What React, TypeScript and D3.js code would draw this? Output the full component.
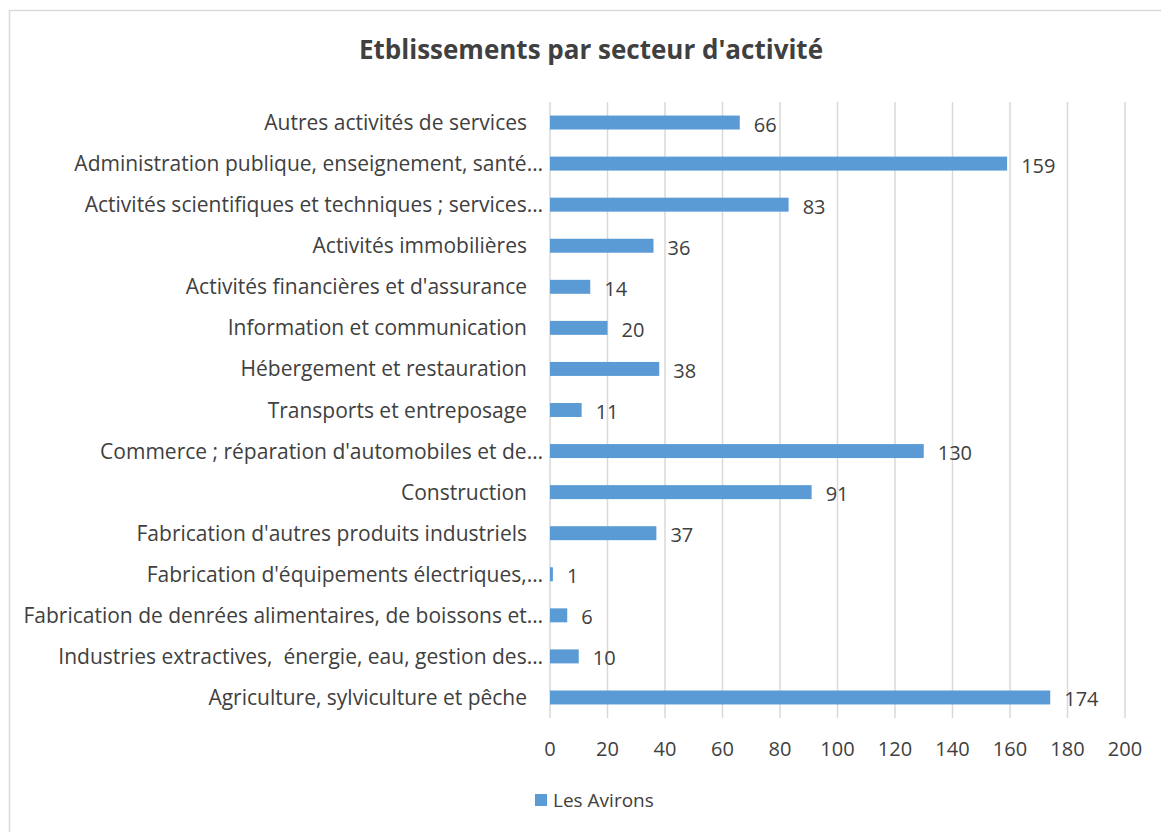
import React, { useEffect, useRef } from 'react';
import * as d3 from 'd3';

const categories = [
  'Autres activités de services',
  'Administration publique, enseignement, santé…',
  'Activités scientifiques et techniques ; services…',
  'Activités immobilières',
  "Activités financières et d'assurance",
  'Information et communication',
  'Hébergement et restauration',
  'Transports et entreposage',
  "Commerce ; réparation d'automobiles et de…",
  'Construction',
  "Fabrication d'autres produits industriels",
  "Fabrication d'équipements électriques,…",
  'Fabrication de denrées alimentaires, de boissons et…',
  'Industries extractives,  énergie, eau, gestion des…',
  'Agriculture, sylviculture et pêche',
];
const values = [66, 159, 83, 36, 14, 20, 38, 11, 130, 91, 37, 1, 6, 10, 174];
const xTicks = [0, 20, 40, 60, 80, 100, 120, 140, 160, 180, 200];
const seriesName = 'Les Avirons';
const title = "Etblissements par secteur d'activité";

const FONT = '"Open Sans", Lato, sans-serif';
const TEXT = '#404040';
const BAR = '#5b9bd5';

export default function App() {
  const ref = useRef<SVGSVGElement>(null);

  useEffect(() => {
    if (!ref.current) return;
    const svg = d3.select(ref.current);
    svg.selectAll('*').remove();

    const width = 1161;
    const height = 832;

    // chart border
    svg.append('rect')
      .attr('x', 9.5).attr('y', 10.5)
      .attr('width', width + 10).attr('height', height + 10)
      .attr('fill', '#fff')
      .attr('stroke', '#d9d9d9')
      .attr('stroke-width', 1.5);

    const x = d3.scaleLinear().domain([0, 200]).range([550, 1125]);
    const y = d3.scaleBand<string>().domain(categories).range([102, 718]).paddingInner(0.66).paddingOuter(0.33);

    // title
    svg.append('text')
      .attr('x', 591).attr('y', 59)
      .attr('text-anchor', 'middle')
      .attr('font-family', FONT)
      .attr('font-weight', 'bold')
      .attr('font-size', 26)
      .attr('fill', TEXT)
      .text(title);

    // gridlines
    svg.append('g')
      .selectAll('line')
      .data(xTicks)
      .enter()
      .append('line')
      .attr('x1', (d) => x(d)).attr('x2', (d) => x(d))
      .attr('y1', 102).attr('y2', 718)
      .attr('stroke', '#d9d9d9')
      .attr('stroke-width', 1.5);

    // tick labels
    svg.append('g')
      .selectAll('text')
      .data(xTicks)
      .enter()
      .append('text')
      .attr('x', (d) => x(d))
      .attr('y', 756)
      .attr('text-anchor', 'middle')
      .attr('font-family', FONT)
      .attr('font-size', 20)
      .attr('fill', TEXT)
      .text((d) => d);

    // bars
    svg.append('g')
      .selectAll('rect')
      .data(values)
      .enter()
      .append('rect')
      .attr('x', x(0))
      .attr('y', (_, i) => y(categories[i])!)
      .attr('width', (d) => x(d) - x(0))
      .attr('height', y.bandwidth())
      .attr('fill', BAR);

    // category labels (truncated ones sit a bit further right, as in Excel)
    svg.append('g')
      .selectAll('text')
      .data(categories)
      .enter()
      .append('text')
      .attr('x', (d) => (d.endsWith('…') ? 543 : 527))
      .attr('y', (d) => y(d)! + y.bandwidth() / 2)
      .attr('dy', '0.36em')
      .attr('text-anchor', 'end')
      .attr('font-family', FONT)
      .attr('font-size', 21)
      .attr('fill', TEXT)
      .style('white-space', 'pre')
      .text((d) => d);

    // value labels
    svg.append('g')
      .selectAll('text')
      .data(values)
      .enter()
      .append('text')
      .attr('x', (d) => x(d) + 14)
      .attr('y', (_, i) => y(categories[i])! + y.bandwidth() / 2 + 2)
      .attr('dy', '0.35em')
      .attr('font-family', FONT)
      .attr('font-size', 20)
      .attr('fill', TEXT)
      .text((d) => d);

    // legend
    svg.append('rect')
      .attr('x', 535).attr('y', 794)
      .attr('width', 12).attr('height', 12)
      .attr('fill', BAR);
    svg.append('text')
      .attr('x', 553).attr('y', 800)
      .attr('dy', '0.35em')
      .attr('font-family', FONT)
      .attr('font-size', 19)
      .attr('fill', TEXT)
      .text(seriesName);
  }, []);

  return (
    <svg
      ref={ref}
      width={1161}
      height={832}
      style={{ position: 'absolute', left: 0, top: 0, display: 'block' }}
    />
  );
}
